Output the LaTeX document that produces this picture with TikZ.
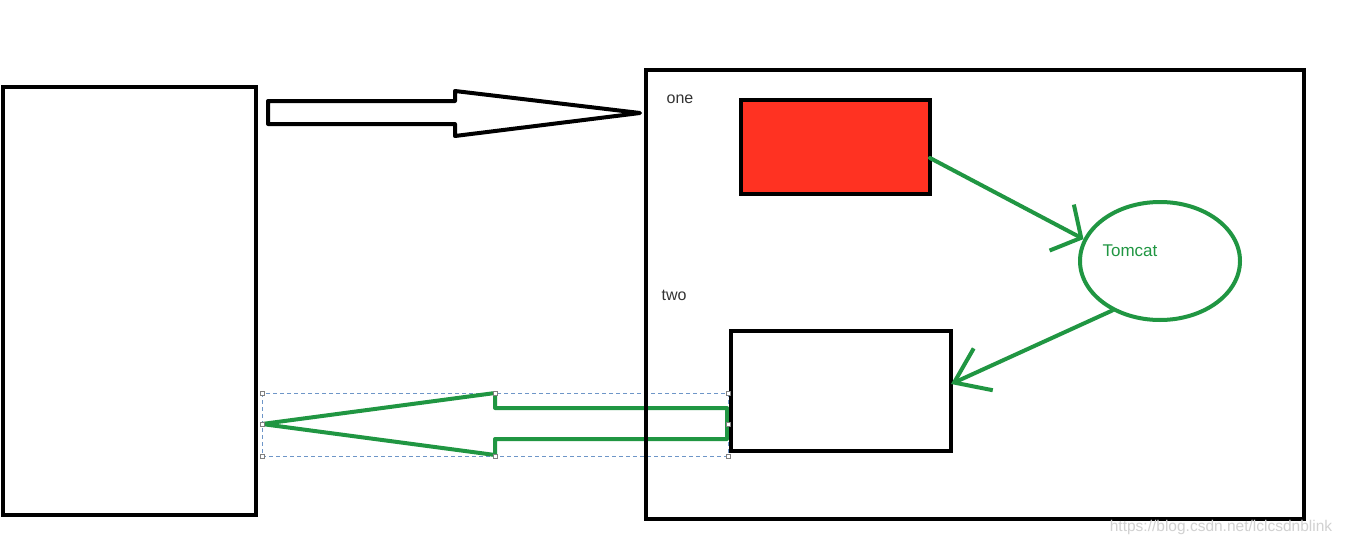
\documentclass[tikz,border=0pt]{standalone}
\usepackage{fontspec}
\setmainfont{Liberation Sans}
\usetikzlibrary{arrows.meta,shapes.geometric}
\definecolor{tgreen}{RGB}{32,150,66}
\definecolor{tred}{RGB}{255,50,34}
\definecolor{selblue}{RGB}{110,150,200}
\begin{document}
\begin{tikzpicture}[x=1pt,y=-1pt,
  box/.style={draw=black,line width=4pt,inner sep=0pt,outer sep=0pt},
  lbl/.style={text=black!80,font=\fontsize{16}{18}\selectfont,inner sep=0pt},
  gline/.style={draw=tgreen,line width=4pt,line cap=round,line join=round},
  hollow/.style={line width=4pt,line join=round},
  handle/.style={draw=black!50,fill=white,line width=0.6pt,minimum size=4pt,inner sep=0pt}]
\useasboundingbox (0,0) rectangle (1345,546);
\fill[white] (0,0) rectangle (1345,546);

% black hollow arrow (request)
\draw[hollow,fill=white] (268,101) -- (455,101) -- (455,91) -- (640,113) -- (455,136) -- (455,124) -- (268,124) -- cycle;

% selection frame around green arrow
\draw[selblue,line width=0.9pt,dash pattern=on 4pt off 3pt] (262,393) rectangle (728,456);

% green hollow arrow (response)
\draw[hollow,draw=tgreen] (727,408) -- (495,408) -- (495,393) -- (262,424) -- (495,455) -- (495,439) -- (727,439) -- cycle;

% boxes
\node[box,minimum width=253pt,minimum height=428pt] (L) at (129.5,301) {};
\node[box,minimum width=658pt,minimum height=449pt] (B) at (975,294.5) {};
\node[box,fill=tred,minimum width=189pt,minimum height=94pt] (R) at (835.5,147) {};
\node[box,fill=white,minimum width=220pt,minimum height=120pt] (W) at (841,391) {};
\node[ellipse,draw=tgreen,line width=4pt,minimum width=160pt,minimum height=118pt,inner sep=0pt] (T) at (1160,261) {};
\node[text=tgreen,font=\fontsize{17}{19}\selectfont,inner sep=0pt] (tomcat) at (1130,251) {Tomcat};

% labels
\node[lbl] (one) at (680,99) {one};
\node[lbl] (two) at (674,295) {two};

% selection handles
\foreach \hx/\hy/\hn in {262/393/a,495/393/b,728/393/c,262/424/d,728/424/e,262/456/f,495/456/g,728/456/h}
  \node[handle] (h\hn) at (\hx,\hy) {};

% green connectors with open heads
\draw[gline,-{Straight Barb[length=22pt,width=52pt]}] ([yshift=-11pt]R.east) -- (T.164);
\draw[gline,-{Straight Barb[length=32pt,width=46pt]}] (T.226) -- ([yshift=7pt]W.east);

% watermark
\node[text=black!18,font=\fontsize{15.5}{17}\selectfont,inner sep=0pt] (wm) at (1221,527) {https://blog.csdn.net/lclcsdnblink};
\end{tikzpicture}
\end{document}
